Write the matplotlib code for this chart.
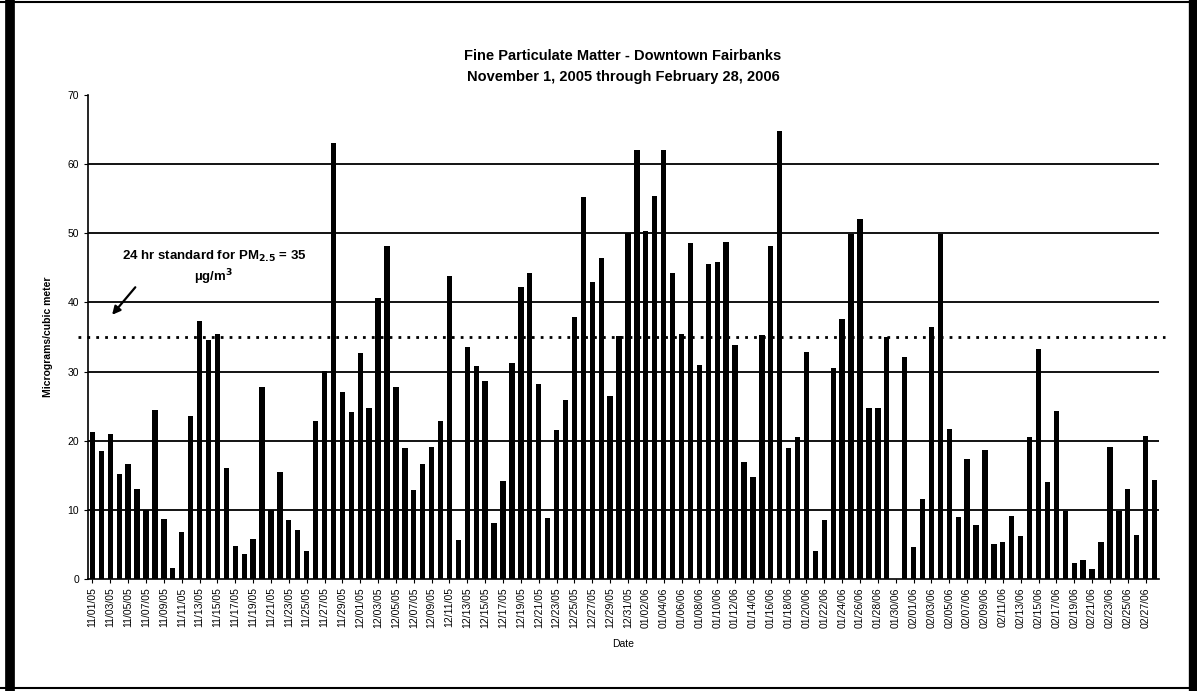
import numpy as np
import matplotlib
matplotlib.use("Agg")
import matplotlib.pyplot as plt
from matplotlib.lines import Line2D

plt.rcParams['font.family'] = ['Liberation Sans', 'DejaVu Sans']

# daily PM2.5, 11/01/05 .. 02/28/06 (120 days, 01/30/06 missing)
nov = [21.2, 18.5, 21.0, 15.2, 16.6, 13.0, 10.0, 24.5, 8.7, 1.6,
       6.8, 23.6, 37.3, 34.5, 35.5, 16.0, 4.8, 3.6, 5.8, 27.7,
       10.0, 15.5, 8.6, 7.1, 4.1, 22.9, 30.1, 63.1, 27.0, 24.2]
dec = [32.7, 24.8, 40.6, 48.2, 27.8, 19.0, 12.8, 16.6, 19.1, 22.8,
       43.8, 5.6, 33.5, 30.8, 28.7, 8.1, 14.2, 31.3, 42.3, 44.2,
       28.2, 8.8, 21.6, 25.9, 37.9, 55.3, 42.9, 46.4, 26.4, 35.1, 50.1]
jan = [62.1, 50.4, 55.4, 62.1, 44.2, 35.4, 48.6, 31.0, 45.5, 45.9,
       48.7, 33.8, 16.9, 14.8, 35.3, 48.2, 64.8, 19.0, 20.6, 32.9,
       4.0, 8.6, 30.5, 37.6, 49.9, 52.0, 24.8, 24.8, 35.0, 0.0, 32.1]
feb = [4.7, 11.5, 36.4, 49.9, 21.7, 8.9, 17.4, 7.8, 18.6, 5.1,
       5.4, 9.1, 6.2, 20.6, 33.2, 14.1, 24.3, 9.9, 2.3, 2.7,
       1.5, 5.3, 19.1, 9.9, 13.0, 6.3, 20.7, 14.3]

values = nov + dec + jan + feb
month_days = [("11", "05", 30), ("12", "05", 31), ("01", "06", 31), ("02", "06", 28)]
dates = []
for m, yr, n in month_days:
    for d in range(1, n + 1):
        dates.append("%s/%02d/%s" % (m, d, yr))

standard = 35
title1 = "Fine Particulate Matter - Downtown Fairbanks"
title2 = "November 1, 2005 through February 28, 2006"


def plot_chart():
    W, H = 1197, 691
    fig = plt.figure(figsize=(W / 100, H / 100), dpi=100)
    ax = fig.add_axes([88 / W, 1 - 579 / H, 1071 / W, 484 / H])

    x = np.arange(len(values))
    ax.bar(x, values, width=0.6, color='black', zorder=3)

    ax.set_xlim(-0.5, len(values) - 0.5)
    ax.set_ylim(0, 70)
    ax.set_yticks(range(0, 71, 10))
    for g in range(10, 70, 10):
        ax.axhline(g, color='black', lw=1.3, zorder=1)

    ax.plot([-1.6, len(values) + 0.2], [standard, standard], color='black',
            lw=2.0, ls=(0, (1, 2.2)), zorder=4, clip_on=False)

    ax.set_xticks(x[::2])
    ax.set_xticklabels(dates[::2], rotation=90, fontsize=7.5)
    ax.tick_params(axis='y', labelsize=7.5, length=3, direction='out')
    ax.tick_params(axis='x', length=3, direction='out', pad=3)

    for s in ['top', 'right']:
        ax.spines[s].set_visible(False)
    ax.spines['left'].set_linewidth(1.2)
    ax.spines['bottom'].set_linewidth(1.2)

    ax.set_ylabel("Micrograms/cubic meter", fontsize=7.5, fontweight='bold', labelpad=10)
    ax.set_xlabel("Date", fontsize=7.5, labelpad=8)

    ax.text(13.6, 45.0, "24 hr standard for PM$_{\\mathbf{2.5}}$ = 35\n\u00b5g/m$^{\\mathbf{3}}$",
            ha='center', va='center', fontsize=9.5, fontweight='bold',
            linespacing=1.25, zorder=5)
    ax.annotate("", xy=(2.0, 37.9), xytext=(5.0, 42.5),
                arrowprops=dict(arrowstyle='-|>', color='black', lw=1.6,
                                mutation_scale=12))

    fig.text(623 / W, 1 - 56 / H, title1, ha='center', va='center',
             fontsize=10.5, fontweight='bold')
    fig.text(623 / W, 1 - 77 / H, title2, ha='center', va='center',
             fontsize=10.5, fontweight='bold')

    # border around the whole chart
    fig.add_artist(Line2D([10 / W, 10 / W], [0.0, 1.0], color='black', lw=7))
    fig.add_artist(Line2D([1193 / W, 1193 / W], [0.0, 1.0], color='black', lw=6))
    fig.add_artist(Line2D([0, 1], [1 - 688 / H, 1 - 688 / H], color='black', lw=1.5))
    fig.add_artist(Line2D([0, 1], [1 - 2 / H, 1 - 2 / H], color='black', lw=1.5))

    fig.savefig("out.png", dpi=100)


def main():
    plot_chart()

if __name__ == "__main__":
    main()
